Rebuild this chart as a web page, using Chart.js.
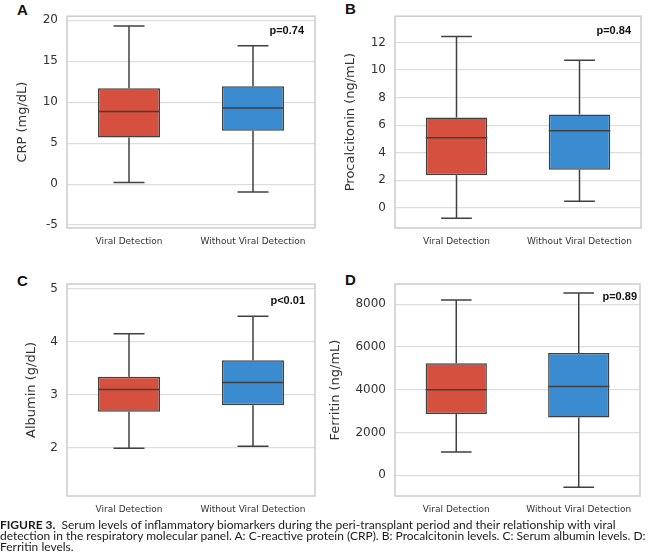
<!DOCTYPE html>
<html>
<head>
<meta charset="utf-8">
<script src="https://cdn.jsdelivr.net/npm/chart.js@4.4.1/dist/chart.umd.min.js"></script>
<style>
    body { margin: 0; background: #fff; width: 650px; height: 560px; position: relative; overflow: hidden; }
    canvas { position: absolute; }
    .tag { position: absolute; font: bold 15px 'Liberation Sans', Arial, sans-serif; color: #111; line-height: 1; }
    .caption { position: absolute; left: 0; top: 520px; font-family: Lato, 'Open Sans', sans-serif; font-size: 12px; line-height: 10.8px; color: #1a1a1a; white-space: nowrap; }
    .caption b { font-weight: bold; }
</style>
</head>
<body>
<div class="tag" style="left:17px;top:2px">A</div>
<div class="tag" style="left:345px;top:1px">B</div>
<div class="tag" style="left:17px;top:273px">C</div>
<div class="tag" style="left:345px;top:272px">D</div>

<canvas id="chartA" width="325" height="250" style="left:0;top:0"></canvas>
<canvas id="chartB" width="325" height="250" style="left:325px;top:0"></canvas>
<canvas id="chartC" width="325" height="265" style="left:0;top:255px"></canvas>
<canvas id="chartD" width="325" height="265" style="left:325px;top:255px"></canvas>

<div class="caption">
    <div><b>FIGURE 3.</b>&nbsp; Serum levels of inflammatory biomarkers during the peri-transplant period and their relationship with viral</div>
    <div>detection in the respiratory molecular panel. A: C-reactive protein (CRP). B: Procalcitonin levels. C: Serum albumin levels. D:</div>
    <div>Ferritin levels.</div>
</div>

<script>
// Groups (same in every panel)
const groups = ['Viral Detection', 'Without Viral Detection'];
const groupColors = ['#d6503f', '#3a8bd0'];
const edgeColor = '#404040';

// A: CRP (mg/dL) - whisker low, Q1, median, Q3, whisker high
const crpLow = [0.2, -0.95];
const crpQ1 = [5.7, 6.5];
const crpMed = [8.85, 9.3];
const crpQ3 = [11.7, 11.95];
const crpHigh = [19.3, 16.9];
const crpRange = [-5.36, 20.5];
const crpTicks = [-5, 0, 5, 10, 15, 20];

// B: Procalcitonin (ng/mL)
const pctLow = [-0.76, 0.48];
const pctQ1 = [2.37, 2.77];
const pctMed = [5.09, 5.59];
const pctQ3 = [6.55, 6.77];
const pctHigh = [12.43, 10.71];
const pctRange = [-1.46, 13.9];
const pctTicks = [0, 2, 4, 6, 8, 10, 12];

// C: Albumin (g/dL)
const albLow = [1.99, 2.03];
const albQ1 = [2.68, 2.80];
const albMed = [3.10, 3.23];
const albQ3 = [3.34, 3.65];
const albHigh = [4.15, 4.48];
const albRange = [1.09, 5.09];
const albTicks = [2, 3, 4, 5];

// D: Ferritin (ng/mL)
const ferLow = [1090, -560];
const ferQ1 = [2870, 2710];
const ferMed = [4000, 4160];
const ferQ3 = [5240, 5720];
const ferHigh = [8200, 8530];
const ferRange = [-968, 8950];
const ferTicks = [0, 2000, 4000, 6000, 8000];

// light gray frame around the plot area
const framePlugin = {
    id: 'frame',
    beforeDatasetsDraw(chart) {
        const a = chart.chartArea;
        const ctx = chart.ctx;
        ctx.save();
        ctx.strokeStyle = '#cfcfcf';
        ctx.lineWidth = 1.6;
        ctx.strokeRect(a.left, a.top, a.right - a.left, a.bottom - a.top);
        ctx.restore();
    }
};

// whiskers, caps and median line on top of the floating bars
const boxPlugin = {
    id: 'boxWhiskers',
    afterDatasetsDraw(chart) {
        const ds = chart.data.datasets[0];
        const meta = chart.getDatasetMeta(0);
        const y = chart.scales.y;
        const ctx = chart.ctx;
        ctx.save();
        ctx.strokeStyle = edgeColor;
        ctx.lineWidth = 1.5;
        meta.data.forEach((bar, i) => {
            const x = bar.x;
            const half = bar.width / 2;
            const cap = half / 2;
            const yLow = y.getPixelForValue(ds.low[i]);
            const yQ1 = y.getPixelForValue(ds.data[i][0]);
            const yMed = y.getPixelForValue(ds.med[i]);
            const yQ3 = y.getPixelForValue(ds.data[i][1]);
            const yHigh = y.getPixelForValue(ds.high[i]);
            ctx.beginPath();
            ctx.moveTo(x - half, yMed); ctx.lineTo(x + half, yMed);
            ctx.moveTo(x, yQ3); ctx.lineTo(x, yHigh);
            ctx.moveTo(x - cap, yHigh); ctx.lineTo(x + cap, yHigh);
            ctx.moveTo(x, yQ1); ctx.lineTo(x, yLow);
            ctx.moveTo(x - cap, yLow); ctx.lineTo(x + cap, yLow);
            ctx.stroke();
        });
        ctx.restore();
    }
};

// p-value label in the upper right corner
const pValuePlugin = {
    id: 'pValue',
    afterDraw(chart, args, opts) {
        const a = chart.chartArea;
        const ctx = chart.ctx;
        ctx.save();
        ctx.font = "bold 11px 'Liberation Sans', Arial, sans-serif";
        ctx.fillStyle = '#111';
        ctx.textAlign = 'right';
        ctx.textBaseline = 'middle';
        ctx.fillText(opts.text, a.right - opts.dx, a.top + opts.dy);
        ctx.restore();
    }
};

function makePanel(canvasId, p) {
    return new Chart(document.getElementById(canvasId), {
        type: 'bar',
        data: {
            labels: groups,
            datasets: [{
                data: p.q1.map((v, i) => [v, p.q3[i]]),
                low: p.low,
                med: p.med,
                high: p.high,
                backgroundColor: groupColors,
                borderColor: edgeColor,
                borderWidth: 1.5,
                borderSkipped: false,
                barPercentage: 0.5,
                categoryPercentage: 1
            }]
        },
        options: {
            responsive: false,
            animation: false,
            layout: { padding: p.padding },
            plugins: {
                legend: { display: false },
                tooltip: { enabled: false },
                pValue: { text: p.pText, dx: p.pDx, dy: p.pDy }
            },
            scales: {
                x: {
                    grid: { display: false, drawTicks: false },
                    border: { display: false },
                    ticks: {
                        font: { family: "'DejaVu Sans', sans-serif", size: 9 },
                        color: '#333',
                        padding: 8,
                        maxRotation: 0
                    },
                    afterFit(s) { s.height = p.xHeight; }
                },
                y: {
                    min: p.range[0],
                    max: p.range[1],
                    afterBuildTicks(s) { s.ticks = p.ticks.map(v => ({ value: v })); },
                    afterFit(s) { s.width = p.yWidth; },
                    grid: { color: '#dddddd', lineWidth: 1.2, drawTicks: false },
                    border: { display: false },
                    ticks: {
                        font: { family: "'DejaVu Sans', sans-serif", size: 12 },
                        color: '#333',
                        padding: 9,
                        callback: v => String(v)
                    },
                    title: {
                        display: true,
                        text: p.title,
                        font: { family: "'DejaVu Sans', sans-serif", size: 13 },
                        color: '#333',
                        padding: { top: p.titlePad, bottom: 0 }
                    }
                }
            }
        },
        plugins: [framePlugin, boxPlugin, pValuePlugin]
    });
}

makePanel('chartA', {
    low: crpLow, q1: crpQ1, med: crpMed, q3: crpQ3, high: crpHigh,
    range: crpRange, ticks: crpTicks, title: 'CRP (mg/dL)', pText: 'p=0.74',
    padding: { top: 14, right: 10, left: 0, bottom: 0 }, yWidth: 67, xHeight: 22, titlePad: 15, pDx: 11, pDy: 15
});

makePanel('chartB', {
    low: pctLow, q1: pctQ1, med: pctMed, q3: pctQ3, high: pctHigh,
    range: pctRange, ticks: pctTicks, title: 'Procalcitonin (ng/mL)', pText: 'p=0.84',
    padding: { top: 14, right: 9, left: 0, bottom: 0 }, yWidth: 70, xHeight: 22, titlePad: 18, pDx: 10, pDy: 15
});

makePanel('chartC', {
    low: albLow, q1: albQ1, med: albMed, q3: albQ3, high: albHigh,
    range: albRange, ticks: albTicks, title: 'Albumin (g/dL)', pText: 'p<0.01',
    padding: { top: 29, right: 10, left: 0, bottom: 0 }, yWidth: 67, xHeight: 24, titlePad: 24, pDx: 10, pDy: 17
});

makePanel('chartD', {
    low: ferLow, q1: ferQ1, med: ferMed, q3: ferQ3, high: ferHigh,
    range: ferRange, ticks: ferTicks, title: 'Ferritin (ng/mL)', pText: 'p=0.89',
    padding: { top: 29, right: 10, left: 0, bottom: 0 }, yWidth: 70, xHeight: 24, titlePad: 3, pDx: 3, pDy: 13
});
</script>
</body>
</html>
